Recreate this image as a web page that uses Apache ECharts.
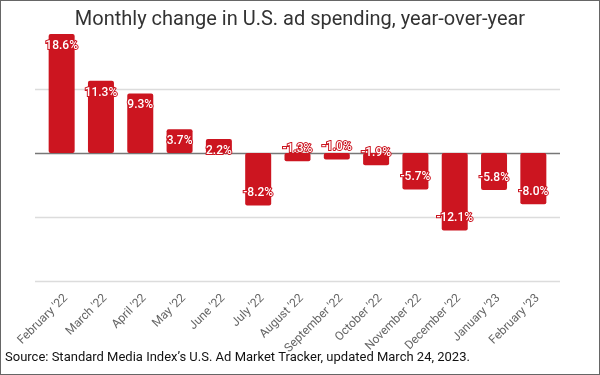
<!DOCTYPE html>
<html>
<head>
<meta charset="utf-8">
<script src="https://cdn.jsdelivr.net/npm/echarts@6/dist/echarts.min.js"></script>
<style>
  html, body { margin: 0; padding: 0; background: #fff; }
  #frame { width: 598px; height: 373px; border: 1px solid #666; position: relative; }
  #chart { width: 598px; height: 373px; }
</style>
</head>
<body>
<div id="frame"><div id="chart"></div></div>
<script>
const months = ["February '22", "March '22", "April '22", "May '22", "June '22", "July '22",
  "August '22", "September '22", "October '22", "November '22", "December '22",
  "January '23", "February '23"]
const changes = [18.6, 11.3, 9.3, 3.7, 2.2, -8.2, -1.3, -1.0, -1.9, -5.7, -12.1, -5.8, -8.0]
const yMin = -20
const yMax = 20
const yStep = 10

const RED = '#cc1520'
const FONT = 'Roboto, "Noto Sans", sans-serif'

const chart = echarts.init(document.getElementById('chart'), null, { renderer: 'canvas' })

const barData = changes.map((v) => ({
  value: v,
  label: { position: v >= 0 ? 'insideTop' : 'insideBottom' },
}))

chart.setOption({
  animation: false,
  title: {
    text: 'Monthly change in U.S. ad spending, year-over-year',
    left: 'center',
    top: 4,
    textStyle: { fontFamily: FONT, fontSize: 20, fontWeight: 'normal', color: '#333' },
  },
  graphic: [{
    type: 'text',
    left: 4,
    top: 350,
    style: {
      text: 'Source: Standard Media Index\u2019s U.S. Ad Market Tracker, updated March 24, 2023.',
      font: '13px ' + FONT,
      fill: '#111',
    },
  }],
  grid: [
    { left: 41, right: 46, top: 24, height: 256, outerBoundsMode: 'none', containLabel: false },
    { left: 34, right: 39, top: 24, height: 256, outerBoundsMode: 'none', containLabel: false },
  ],
  xAxis: [
    {
      type: 'category',
      gridIndex: 0,
      data: months,
      axisLine: { show: false, onZero: false },
      axisTick: { show: false },
      axisLabel: {
        rotate: 45,
        interval: 0,
        margin: 11,
        verticalAlign: 'top',
        color: '#666',
        fontFamily: FONT,
        fontSize: 12,
      },
    },
    { type: 'category', gridIndex: 1, show: false, data: months },
  ],
  yAxis: [
    {
      type: 'value', gridIndex: 0, min: yMin, max: yMax, interval: yStep,
      axisLabel: { show: false }, axisLine: { show: false }, axisTick: { show: false },
      splitLine: { show: false },
    },
    {
      type: 'value', gridIndex: 1, min: yMin, max: yMax, interval: yStep,
      axisLabel: { show: false }, axisLine: { show: false }, axisTick: { show: false },
      splitLine: {
        show: true,
        lineStyle: { color: ['#dcdcdc', '#dcdcdc', '#777', '#dcdcdc', 'rgba(0,0,0,0)'], width: 1.3 },
      },
    },
  ],
  series: [{
    type: 'bar',
    xAxisIndex: 0,
    yAxisIndex: 0,
    data: barData,
    barWidth: 26,
    itemStyle: { color: RED, borderRadius: 2 },
    label: {
      show: true,
      distance: 6,
      formatter: (p) => p.value.toFixed(1) + '%',
      color: '#fff',
      fontFamily: FONT,
      fontSize: 12,
      fontWeight: 500,
      textBorderColor: RED,
      textBorderWidth: 2,
    },
  }],
})
</script>
</body>
</html>
